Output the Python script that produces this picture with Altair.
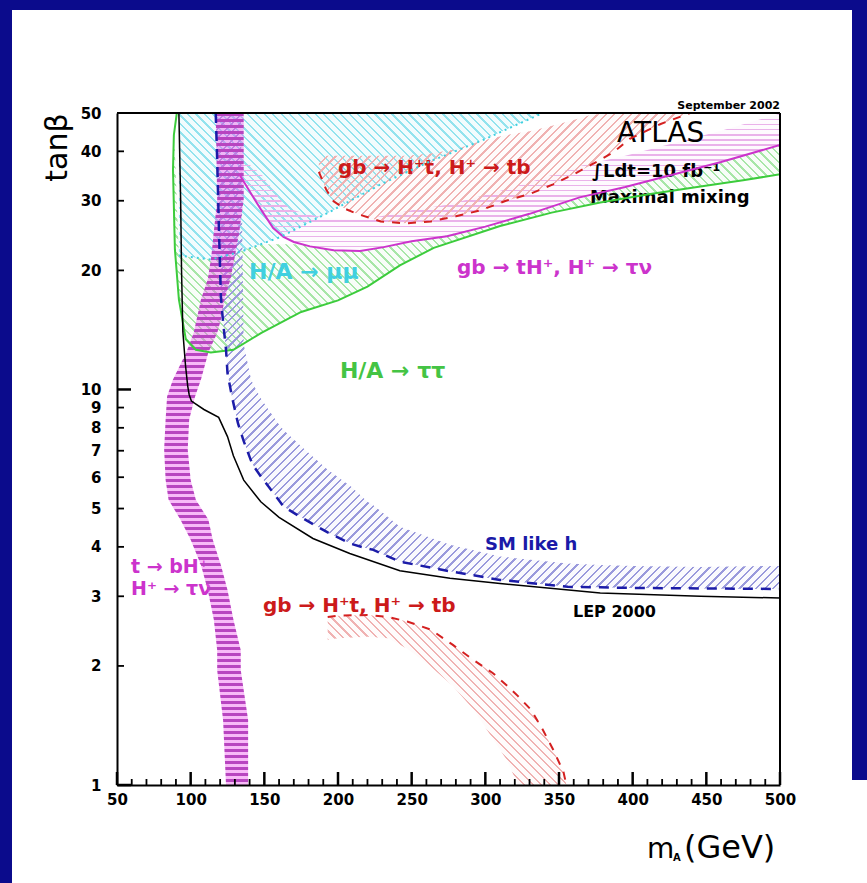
import math
import altair as alt
import pandas as pd

# ---------------- data ----------------
# LEP 2000 excluded region boundary (black)
lep_m = [92, 93.2, 93.8, 94.7, 96.5, 98, 99, 100.5, 109, 119, 125, 129, 136, 147.6, 160, 183, 208, 242, 276, 310, 378, 446, 500]
lep_t = [50, 30, 20, 14, 11.5, 10.2, 9.7, 9.35, 8.9, 8.5, 7.6, 6.8, 5.9, 5.2, 4.75, 4.2, 3.85, 3.48, 3.33, 3.23, 3.06, 3.0, 2.97]

# SM-like h band (blue): dashed lower edge and hatched upper edge
sm_m = [117, 118, 119, 120.5, 122, 124, 125, 128, 132, 134, 136, 141, 143, 148, 159, 163, 175, 193, 209, 220, 224, 242, 276, 310, 356, 378, 400, 446, 500]
sm_lo = [50, 38, 27, 17.2, 14.8, 12.6, 11.0, 9.6, 8.24, 7.8, 7.4, 6.6, 6.38, 6.0, 5.3, 5.06, 4.75, 4.35, 4.07, 3.96, 3.93, 3.67, 3.47, 3.30, 3.17, 3.16, 3.15, 3.14, 3.13]
sm_hi = [50, 50, 50, 50, 50, 50, 50, 50, 50, 50, 13, 10.6, 10.2, 9.44, 8.24, 7.9, 7.19, 6.27, 5.68, 5.2, 5.1, 4.5, 4.05, 3.78, 3.63, 3.60, 3.58, 3.56, 3.58]

# H/A -> mu mu (cyan, dotted lower edge)
mumu_m = [92, 113.7, 134, 161, 195, 229, 263, 297, 339]
mumu_t = [21.8, 21.3, 22.3, 24.3, 28.2, 33.0, 37.8, 42.5, 50]

# H/A -> tau tau (green): solid edge, hatched band above it
tautau_m = [88, 89.3, 92, 96.7, 103.5, 113.7, 129, 148, 175, 200, 220, 242, 265, 310, 345, 378, 412, 446, 475, 500]
tautau_lo = [28, 22.6, 16.9, 13.4, 12.6, 12.4, 12.6, 13.9, 15.7, 16.8, 18.2, 20.6, 22.8, 25.9, 28.0, 29.7, 31.2, 32.6, 33.8, 35.0]
tautau_hi = [45, 40, 21.8, 21.7, 21.5, 21.3, 22.1, 23.3, 23.3, 22.5, 22.5, 23.3, 24.1, 26.4, 29.0, 31.4, 33.8, 36.5, 39.0, 41.5]
tautau_line_m = [90.6, 88.6, 88.0] + tautau_m[1:]
tautau_line_t = [50, 44, 36] + tautau_lo[1:]

# gb -> tH+, H+ -> tau nu (magenta, solid edge, hatched band above it)
taunu_m = [133, 140, 148, 156, 163, 170, 181, 197, 215, 231, 250, 274, 300, 330, 364, 395, 423, 460, 500]
taunu_t = [35, 31.7, 28.4, 25.6, 24.3, 23.6, 23.0, 22.5, 22.4, 22.9, 23.7, 24.4, 25.8, 27.8, 30.6, 32.5, 34.6, 37.6, 41.5]
taunu_hi = [38, 37, 35, 32, 29.5, 28.4, 27.6, 27.0, 26.9, 27.5, 28.4, 29.3, 31.0, 33.4, 36.7, 39.0, 41.5, 45.1, 49.8]

# gb -> H+t, H+ -> tb, high tan beta (red dashed)
tbh_m = [187, 192, 197, 205, 213, 229, 246, 263, 280, 297, 314, 331, 346, 360, 372, 387, 398, 419, 439]
tbh_lo = [35.5, 32, 29.9, 28.6, 27.8, 26.6, 26.3, 26.6, 27.4, 28.4, 30.0, 31.3, 33.0, 35.0, 37.0, 39.8, 43.0, 46.9, 50]
tbh_hi = [38.5, 39, 39, 39, 39, 39, 39, 39.5, 40.5, 42.5, 44, 45, 46.5, 48, 49.5, 50, 50, 50, 50]

# gb -> H+t, H+ -> tb, low tan beta (red dashed)
tbl_m = [193, 200, 220, 234, 247, 263, 278, 292, 305, 315, 322, 331, 339, 346, 353, 355]
tbl_hi = [2.66, 2.68, 2.69, 2.66, 2.59, 2.47, 2.26, 2.07, 1.92, 1.78, 1.68, 1.55, 1.38, 1.23, 1.08, 1.0]
tbl_lo = [2.33, 2.35, 2.37, 2.35, 2.21, 1.99, 1.78, 1.55, 1.31, 1.15, 1.0, 1.0, 1.0, 1.0, 1.0, 1.0]

# t -> bH+, H+ -> tau nu (magenta band)
tb_t = [50, 30.2, 25, 21.7, 19, 16.9, 15, 13.9, 12.4, 10.6, 9.6, 8.4, 7.05, 5.9, 5.26, 4.69, 4.17, 3.6, 3.11, 2.62, 2.19, 1.95, 1.46, 1.0]
tb_left = [117, 118, 115.7, 114, 111.6, 107, 104, 102, 97, 88, 84, 83, 82, 83, 85, 93, 100, 107, 111.6, 115.7, 118, 118, 122, 124]
tb_right = [136, 136, 133, 130, 127, 123, 120.5, 118, 112, 107, 103, 99, 98, 100, 103.5, 112, 115, 120.5, 125, 129, 134, 134, 139, 139]

# annotations
label_text = ["gb \u2192 H\u207At, H\u207A \u2192 tb", "H/A \u2192 \u03bc\u03bc", "gb \u2192 tH\u207A, H\u207A \u2192 \u03c4\u03bd",
              "H/A \u2192 \u03c4\u03c4", "SM like h", "LEP 2000", "gb \u2192 H\u207At, H\u207A \u2192 tb",
              "t \u2192 bH\u207A", "H\u207A \u2192 \u03c4\u03bd", "ATLAS", "\u222bLdt=10 fb\u207b\u00b9", "Maximal mixing"]
label_m = [200.0, 139.6, 280.8, 201.3, 299.8, 359.5, 149.1, 59.5, 59.5, 389.4, 372.4, 371.0]
label_t = [35.1, 19.0, 19.6, 10.7, 3.93, 2.66, 2.74, 3.44, 3.02, 42.2, 34.5, 29.6]

x_major = [50, 100, 150, 200, 250, 300, 350, 400, 450, 500]
x_minor = [60, 70, 80, 90, 110, 120, 130, 140, 160, 170, 180, 190, 210, 220, 230, 240, 260, 270, 280, 290,
           310, 320, 330, 340, 360, 370, 380, 390, 410, 420, 430, 440, 460, 470, 480, 490]
y_labels = [1, 2, 3, 4, 5, 6, 7, 8, 9, 10, 20, 30, 40, 50]
y_major = [1, 10]
y_minor = [2, 3, 4, 5, 6, 7, 8, 9, 20, 30, 40, 50]

# ---------------- styling helpers ----------------
W, H = 663, 672
XMIN, XMAX, YMIN, YMAX = 50, 500, 1, 50
FONT = "DejaVu Sans"
NAVY = "#0b0b8c"


def px_x(m):
    return (m - XMIN) / (XMAX - XMIN) * W


def px_y(t):
    return H * (1 - math.log10(t / YMIN) / math.log10(YMAX / YMIN))


def bbox(ms, ts):
    xs = [px_x(v) for v in ms]
    ys = [px_y(v) for v in ts]
    return max(xs) - min(xs), max(ys) - min(ys)


def hatch(color, tint, kind, w, h, spacing, frac):
    w = max(w, 1.0)
    h = max(h, 1.0)
    r = h / w
    if kind == "h":
        x1, y1, x2, y2 = 0, 0, 0, 1
        span = h
    else:
        s = (1 + r) / (1 + r * r)
        span = (w + h) / math.sqrt(2)
        if kind == "back":
            x1, y1, x2, y2 = 0, 1, s, 1 - s * r
        else:
            x1, y1, x2, y2 = 0, 0, s, s * r
    n = max(1, int(round(span / spacing)))
    stops = []
    for i in range(n):
        a, b, c = i / n, (i + frac) / n, (i + 1) / n
        stops += [{"offset": a, "color": color}, {"offset": b, "color": color},
                  {"offset": b, "color": tint}, {"offset": c, "color": tint}]
    return {"gradient": "linear", "x1": x1, "y1": y1, "x2": x2, "y2": y2, "stops": stops}


xscale = alt.Scale(domain=[XMIN, XMAX], nice=False, zero=False)
yscale = alt.Scale(type="log", domain=[YMIN, YMAX], nice=False)
xaxis = alt.Axis(values=x_major, ticks=False, grid=False, domainColor="black", domainWidth=2,
                 labelFont=FONT, labelFontWeight="bold", labelFontSize=15, labelColor="black",
                 labelPadding=7, format="d", labelFlush=False, labelOverlap=False, title=None, zindex=2)
yaxis = alt.Axis(values=y_labels, ticks=False, grid=False, domainColor="black", domainWidth=2,
                 labelFont=FONT, labelFontWeight="bold", labelFontSize=15, labelColor="black",
                 labelPadding=16, format="d", labelFlush=False, labelOverlap=False,
                 title="tan\u03b2", titleFont=FONT, titleFontSize=30, titleFontWeight="normal",
                 titleColor="black", titleX=-60, titleY=34, titleAngle=-90, titleAlign="center",
                 titleBaseline="middle", zindex=2)

X = lambda f: alt.X(f, type="quantitative", scale=xscale, axis=xaxis)
Y = lambda f: alt.Y(f, type="quantitative", scale=yscale, axis=yaxis)

layers = []

# white slide panel inside the navy frame
one = pd.DataFrame({"a": [0]})
layers.append(alt.Chart(one).mark_rect(color="white").encode(
    x=alt.value(-105), x2=alt.value(735), y=alt.value(-103), y2=alt.value(770)))
layers.append(alt.Chart(one).mark_rect(color="white").encode(
    x=alt.value(730), x2=alt.value(750), y=alt.value(667), y2=alt.value(770)))


def vband(ms, lo, hi, color, tint, kind, spacing, frac):
    df = pd.DataFrame({"m": ms, "lo": lo, "hi": hi})
    w, h = bbox(ms, list(lo) + list(hi))
    return alt.Chart(df).mark_area(fill=hatch(color, tint, kind, w, h, spacing, frac), strokeWidth=0).encode(
        x=X("m"), y=Y("lo"), y2="hi")


# hatched regions
layers.append(vband(mumu_m, mumu_t, [50] * len(mumu_m), "#93e3ee", "rgba(130,225,238,0.10)", "back", 6, 0.28))
layers.append(vband(tautau_m, tautau_lo, tautau_hi, "#a8e6a8", "rgba(140,225,140,0.06)", "back", 6, 0.28))
layers.append(vband(taunu_m, taunu_t, taunu_hi, "#eab2ea", "rgba(235,170,235,0.06)", "h", 5, 0.3))
layers.append(vband(tbh_m, tbh_lo, tbh_hi, "#f0b2b2", "rgba(245,180,180,0.05)", "fwd", 6, 0.28))
layers.append(vband(sm_m, sm_lo, sm_hi, "#9a9adc", "rgba(150,150,225,0.05)", "fwd", 6, 0.28))
layers.append(vband(tbl_m, tbl_lo, tbl_hi, "#f0b2b2", "rgba(245,180,180,0.05)", "back", 6, 0.28))

# text labels (under the magenta band)
styles = [
    dict(color="#cc1a1a", fontSize=20, fontWeight="bold"),
    dict(color="#40d0e0", fontSize=22, fontWeight="bold"),
    dict(color="#cc33cc", fontSize=20, fontWeight="bold"),
    dict(color="#44c444", fontSize=22, fontWeight="bold"),
    dict(color="#1a1aa8", fontSize=18, fontWeight="bold"),
    dict(color="black", fontSize=16, fontWeight="bold"),
    dict(color="#cc1a1a", fontSize=20, fontWeight="bold"),
    dict(color="#cc33cc", fontSize=19, fontWeight="bold"),
    dict(color="#cc33cc", fontSize=19, fontWeight="bold"),
    dict(color="black", fontSize=28, fontWeight="normal"),
    dict(color="black", fontSize=18, fontWeight="bold"),
    dict(color="black", fontSize=18, fontWeight="bold"),
]
for txt, m, t, st in zip(label_text, label_m, label_t, styles):
    df = pd.DataFrame({"m": [m], "t": [t], "txt": [txt]})
    layers.append(alt.Chart(df).mark_text(align="left", baseline="alphabetic", font=FONT, **st).encode(
        x=X("m"), y=Y("t"), text="txt:N"))

# magenta t -> bH+ band (horizontal hatching)
tbdf = pd.DataFrame({"t": tb_t, "xl": tb_left, "xr": tb_right})
bw, bh = bbox(tb_left + tb_right, tb_t)
layers.append(alt.Chart(tbdf).mark_area(orient="horizontal",
                                        fill=hatch("#b845c0", "rgba(238,90,238,0.42)", "h", bw, bh, 6, 0.45),
                                        strokeWidth=0).encode(
    y=Y("t"), x=X("xl"), x2="xr"))


def line(ms, ts, color, width, dash=None):
    df = pd.DataFrame({"m": ms, "t": ts, "i": list(range(len(ms)))})
    kw = dict(color=color, strokeWidth=width, clip=True)
    if dash:
        kw["strokeDash"] = dash
    return alt.Chart(df).mark_line(**kw).encode(x=X("m"), y=Y("t"), order="i:Q")


layers.append(line(tautau_line_m, tautau_line_t, "#3ccc3c", 2))
layers.append(line(taunu_m, taunu_t, "#cc33cc", 2))
layers.append(line(mumu_m, mumu_t, "#3fd0e0", 2, [2, 4]))
layers.append(line(tbh_m, tbh_lo, "#d42020", 2, [8, 8]))
layers.append(line(tbl_m, tbl_hi, "#d42020", 2, [8, 8]))
layers.append(line(sm_m, sm_lo, "#1c1ca8", 2.5, [10, 8]))
layers.append(line(lep_m, lep_t, "black", 1.5))

# inward ticks
layers.append(alt.Chart(pd.DataFrame({"m": x_major})).mark_rule(color="black", strokeWidth=2.5).encode(
    x=X("m"), y=alt.value(H), y2=alt.value(H - 13)))
layers.append(alt.Chart(pd.DataFrame({"m": x_minor})).mark_rule(color="black", strokeWidth=1.8).encode(
    x=X("m"), y=alt.value(H), y2=alt.value(H - 6)))
layers.append(alt.Chart(pd.DataFrame({"t": y_major})).mark_rule(color="black", strokeWidth=2.5).encode(
    y=Y("t"), x=alt.value(0), x2=alt.value(14)))
layers.append(alt.Chart(pd.DataFrame({"t": y_minor})).mark_rule(color="black", strokeWidth=1.8).encode(
    y=Y("t"), x=alt.value(0), x2=alt.value(7)))

# top and right frame of the plot box
layers.append(alt.Chart(one).mark_rule(color="black", strokeWidth=2).encode(
    x=alt.value(0), x2=alt.value(W), y=alt.value(0)))
layers.append(alt.Chart(one).mark_rule(color="black", strokeWidth=2).encode(
    x=alt.value(W), y=alt.value(0), y2=alt.value(H)))

# small date stamp and x-axis title
layers.append(alt.Chart(one).mark_text(text="September 2002", align="right", baseline="alphabetic",
                                       font=FONT, fontSize=11, fontWeight="bold", color="black").encode(
    x=alt.value(W), y=alt.value(-4)))
layers.append(alt.Chart(one).mark_text(text="m", align="left", baseline="alphabetic",
                                       font=FONT, fontSize=28, color="black").encode(
    x=alt.value(530), y=alt.value(745)))
layers.append(alt.Chart(one).mark_text(text="A", align="left", baseline="alphabetic",
                                       font=FONT, fontSize=10, fontWeight="bold", color="black").encode(
    x=alt.value(556), y=alt.value(748)))
layers.append(alt.Chart(one).mark_text(text="(GeV)", align="left", baseline="alphabetic",
                                       font=FONT, fontSize=32, color="black").encode(
    x=alt.value(567), y=alt.value(745)))

chart = alt.layer(*layers).properties(
    width=W, height=H, background=NAVY,
    padding={"left": 117, "top": 113, "right": 87, "bottom": 98},
    autosize=alt.AutoSizeParams(type="none"),
).configure_view(stroke="black", strokeWidth=2, fill="white")

chart.save("out.html", embed_options={"renderer": "svg", "actions": False})
